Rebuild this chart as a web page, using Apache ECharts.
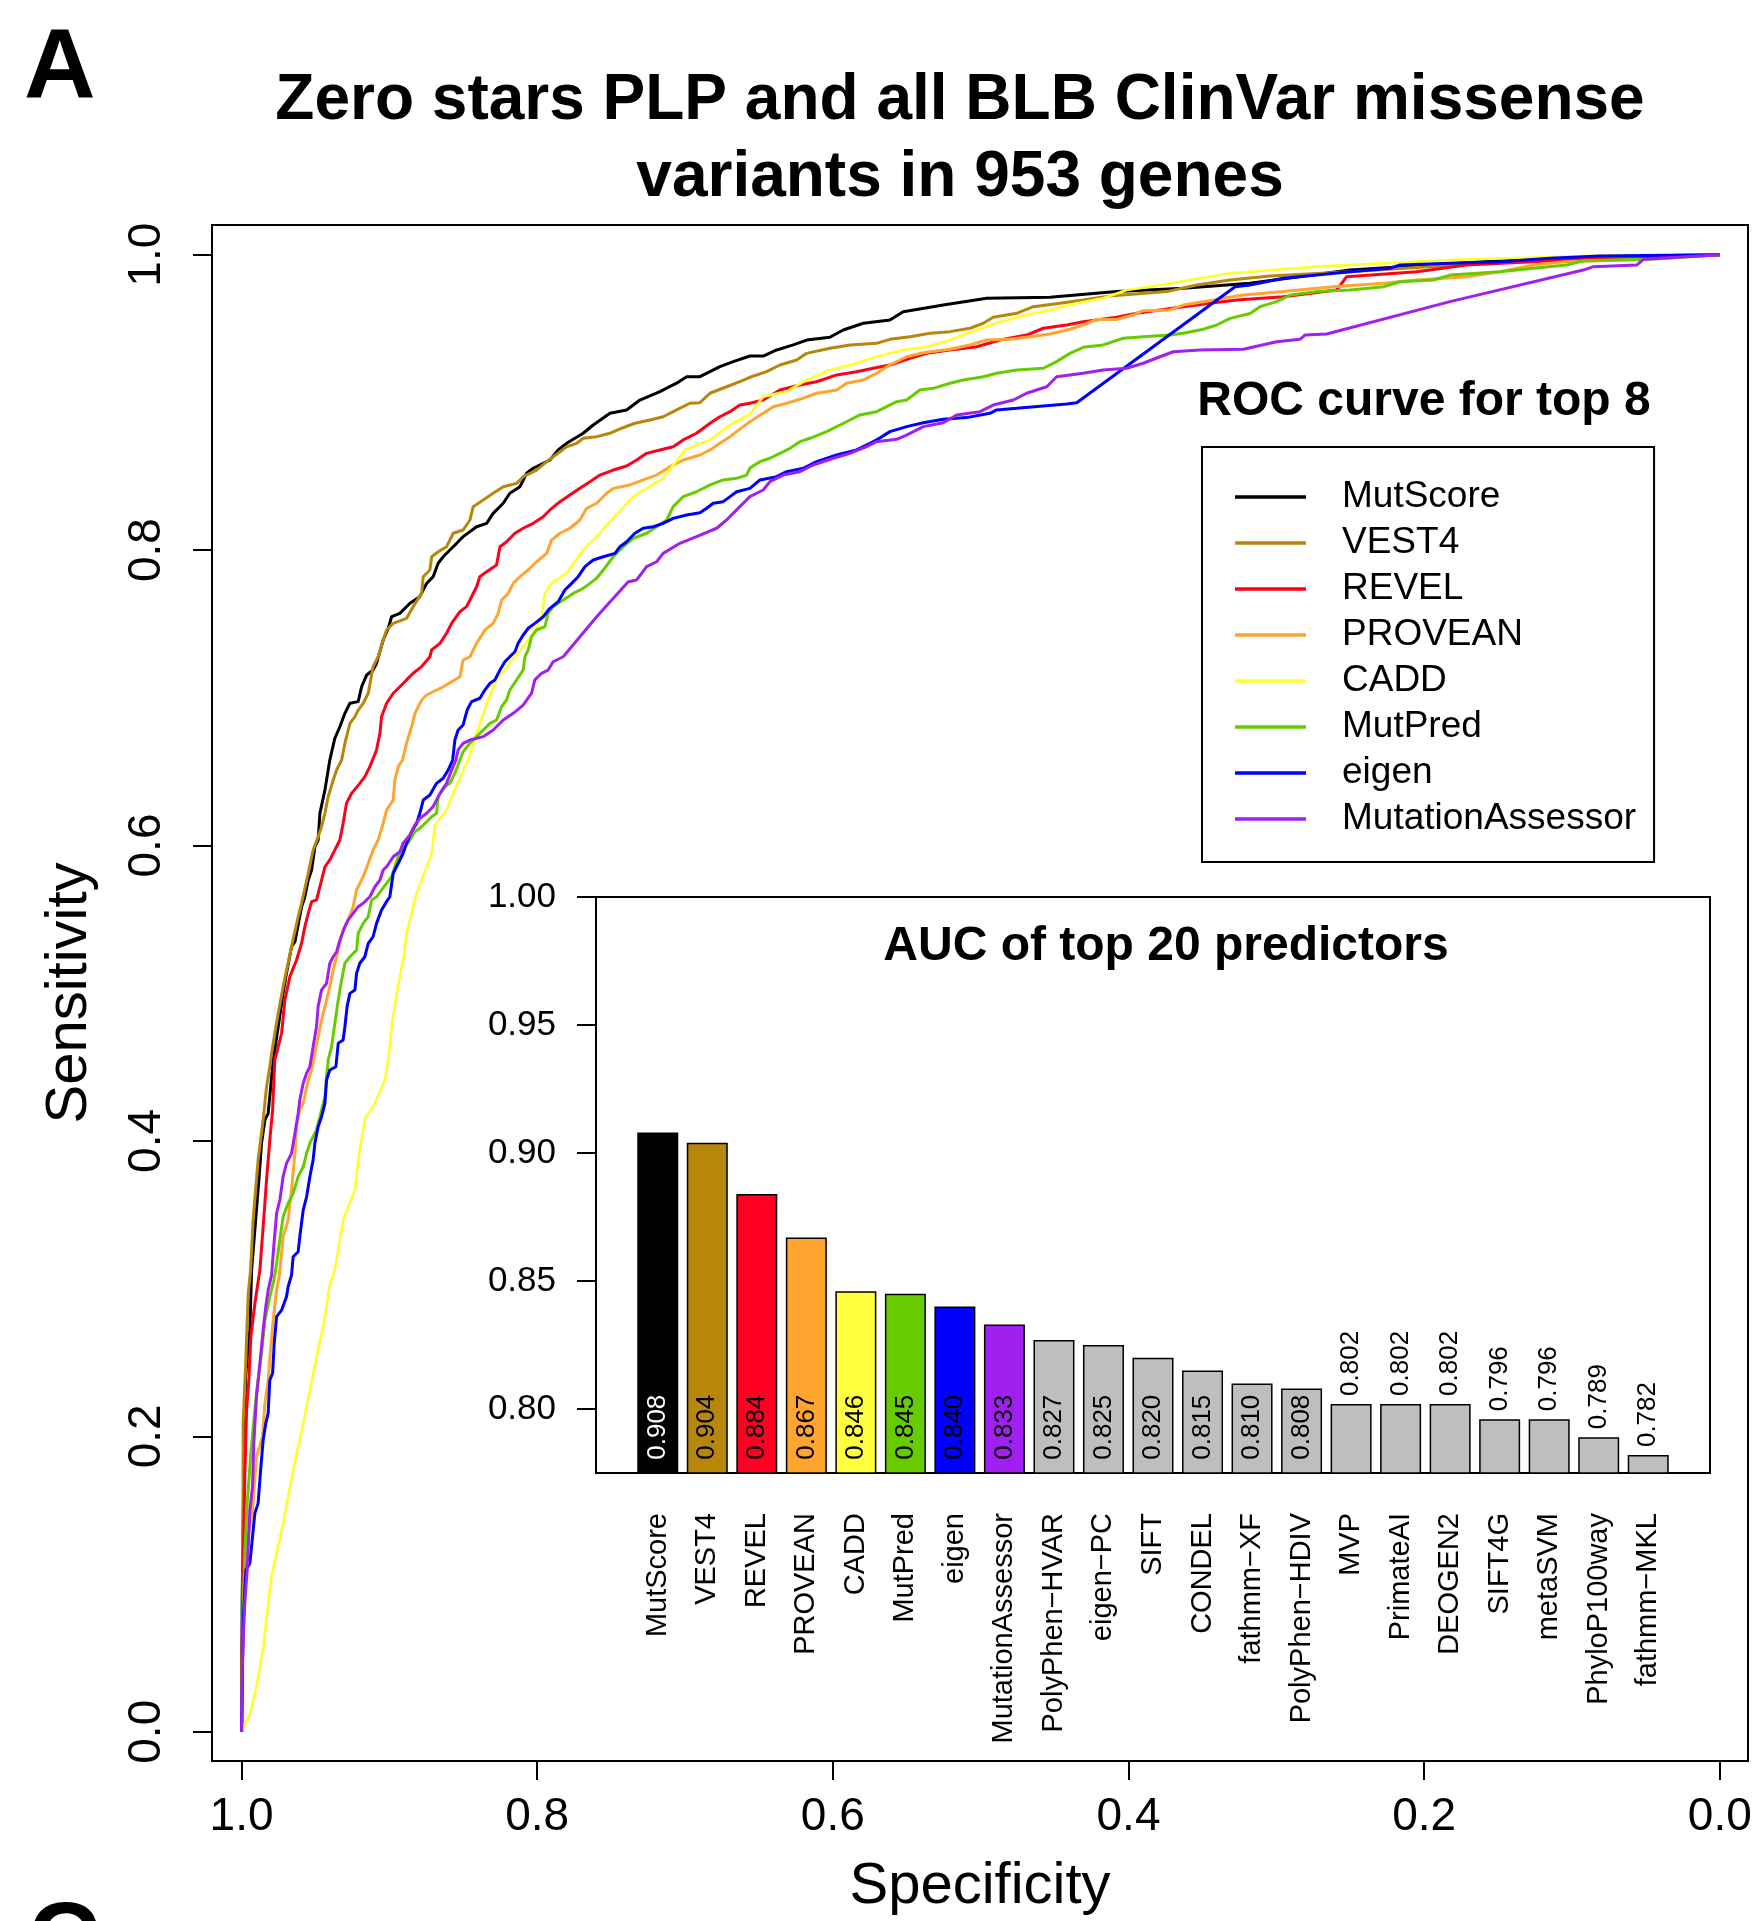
<!DOCTYPE html>
<html><head><meta charset="utf-8">
<script src="https://cdn.jsdelivr.net/npm/echarts@6/dist/echarts.min.js"></script>
<style>html,body{margin:0;padding:0;background:#fff}#c{width:1761px;height:1921px}</style>
</head><body><div id="c"></div>
<script>
const FONT = '"Liberation Sans", Arial, Helvetica, sans-serif';

const curveNames = ['MutScore','VEST4','REVEL','PROVEAN','CADD','MutPred','eigen','MutationAssessor'];
const curveColors = ['#000000','#B8860B','#FF0018','#FFA52F','#FFFF2A','#66CC00','#0000FF','#A020F0'];

// ROC points: [specificity, sensitivity]
const rocMutScore = [[1,0],[0.9996,0.0892],[0.9984,0.1772],[0.9973,0.2404],[0.9944,0.2720],[0.9932,0.3126],[0.9881,0.3758],[0.9865,0.3984],[0.9842,0.4142],[0.9820,0.4187],[0.9786,0.4548],[0.9752,0.4773],[0.9719,0.4999],[0.9696,0.5135],[0.9662,0.5315],[0.9639,0.5349],[0.9594,0.5586],[0.9572,0.5653],[0.9549,0.5766],[0.9526,0.5834],[0.9504,0.5992],[0.9482,0.6037],[0.9470,0.6218],[0.9436,0.6376],[0.9414,0.6511],[0.9403,0.6579],[0.9369,0.6726],[0.9335,0.6804],[0.9301,0.6895],[0.9267,0.6963],[0.9211,0.6974],[0.9188,0.7075],[0.9154,0.7154],[0.9110,0.7188],[0.9087,0.7234],[0.9042,0.7391],[0.9008,0.7471],[0.8985,0.7549],[0.8929,0.7572],[0.8861,0.7640],[0.8794,0.7685],[0.8748,0.7775],[0.8704,0.7820],[0.8670,0.7911],[0.8636,0.7955],[0.8591,0.8001],[0.8545,0.8046],[0.8501,0.8091],[0.8410,0.8158],[0.8342,0.8181],[0.8298,0.8249],[0.8230,0.8317],[0.8185,0.8385],[0.8117,0.8429],[0.8072,0.8520],[0.8027,0.8554],[0.7959,0.8588],[0.7914,0.8610],[0.7858,0.8678],[0.7801,0.8723],[0.7689,0.8791],[0.7621,0.8847],[0.7508,0.8926],[0.7395,0.8949],[0.7305,0.9016],[0.7170,0.9073],[0.7057,0.9130],[0.6989,0.9174],[0.6899,0.9174],[0.6764,0.9242],[0.6674,0.9276],[0.6561,0.9314],[0.6471,0.9314],[0.6380,0.9355],[0.6268,0.9389],[0.6177,0.9422],[0.6020,0.9441],[0.5930,0.9490],[0.5794,0.9536],[0.5614,0.9558],[0.5524,0.9614],[0.5253,0.9659],[0.4959,0.9705],[0.4531,0.9712],[0.4080,0.9750],[0.3629,0.9773],[0.3178,0.9807],[0.2501,0.9896],[0.1599,0.9953],[0.0923,0.9986],[0,1]];

const rocVEST4 = [[1,0],[0.9993,0.0643],[0.9989,0.2088],[0.9973,0.2471],[0.9955,0.2968],[0.9939,0.3126],[0.9922,0.3464],[0.9888,0.3871],[0.9854,0.4142],[0.9831,0.4367],[0.9809,0.4502],[0.9797,0.4593],[0.9775,0.4729],[0.9752,0.4864],[0.9719,0.5044],[0.9662,0.5315],[0.9617,0.5518],[0.9594,0.5609],[0.9549,0.5812],[0.9516,0.5970],[0.9482,0.6060],[0.9459,0.6127],[0.9436,0.6218],[0.9414,0.6330],[0.9380,0.6444],[0.9357,0.6511],[0.9323,0.6579],[0.9301,0.6692],[0.9267,0.6827],[0.9233,0.6872],[0.9211,0.6917],[0.9177,0.6963],[0.9143,0.7031],[0.9110,0.7211],[0.9076,0.7278],[0.9042,0.7391],[0.9019,0.7459],[0.8974,0.7504],[0.8884,0.7538],[0.8839,0.7617],[0.8782,0.7707],[0.8771,0.7820],[0.8726,0.7865],[0.8714,0.7955],[0.8670,0.7989],[0.8613,0.8023],[0.8568,0.8114],[0.8501,0.8136],[0.8455,0.8204],[0.8433,0.8294],[0.8365,0.8339],[0.8298,0.8385],[0.8230,0.8429],[0.8139,0.8452],[0.8095,0.8497],[0.8004,0.8542],[0.7936,0.8599],[0.7846,0.8666],[0.7801,0.8700],[0.7733,0.8723],[0.7689,0.8757],[0.7598,0.8768],[0.7508,0.8791],[0.7429,0.8825],[0.7339,0.8859],[0.7237,0.8881],[0.7148,0.8903],[0.7080,0.8937],[0.6967,0.8994],[0.6899,0.8998],[0.6831,0.9062],[0.6719,0.9106],[0.6629,0.9140],[0.6561,0.9170],[0.6448,0.9208],[0.6358,0.9253],[0.6245,0.9287],[0.6177,0.9332],[0.6020,0.9366],[0.5884,0.9389],[0.5704,0.9400],[0.5614,0.9427],[0.5478,0.9445],[0.5343,0.9468],[0.5208,0.9479],[0.5072,0.9502],[0.4982,0.9536],[0.4915,0.9576],[0.4756,0.9603],[0.4644,0.9648],[0.4463,0.9671],[0.4306,0.9693],[0.4125,0.9720],[0.3742,0.9750],[0.3539,0.9795],[0.3313,0.9829],[0.3043,0.9856],[0.2501,0.9885],[0.1599,0.9942],[0.0923,0.9976],[0,1]];

const rocREVEL = [[1,0],[0.9993,0.0869],[0.9978,0.1726],[0.9966,0.2178],[0.9951,0.2381],[0.9937,0.2674],[0.9910,0.2900],[0.9876,0.3126],[0.9854,0.3419],[0.9831,0.3735],[0.9809,0.4006],[0.9790,0.4209],[0.9775,0.4548],[0.9752,0.4638],[0.9729,0.4729],[0.9707,0.4954],[0.9673,0.5112],[0.9628,0.5225],[0.9594,0.5338],[0.9572,0.5450],[0.9549,0.5541],[0.9526,0.5620],[0.9493,0.5631],[0.9470,0.5721],[0.9436,0.5856],[0.9403,0.5902],[0.9369,0.5970],[0.9335,0.6037],[0.9313,0.6150],[0.9290,0.6286],[0.9256,0.6353],[0.9200,0.6421],[0.9166,0.6466],[0.9132,0.6534],[0.9087,0.6647],[0.9064,0.6760],[0.9053,0.6872],[0.9019,0.6963],[0.8974,0.7031],[0.8929,0.7075],[0.8884,0.7121],[0.8839,0.7166],[0.8782,0.7211],[0.8726,0.7278],[0.8714,0.7324],[0.8658,0.7369],[0.8613,0.7437],[0.8579,0.7504],[0.8523,0.7583],[0.8478,0.7617],[0.8455,0.7662],[0.8410,0.7752],[0.8388,0.7820],[0.8342,0.7854],[0.8275,0.7899],[0.8252,0.8023],[0.8207,0.8057],[0.8151,0.8114],[0.8095,0.8148],[0.8027,0.8181],[0.7959,0.8226],[0.7914,0.8272],[0.7846,0.8328],[0.7779,0.8373],[0.7711,0.8418],[0.7643,0.8463],[0.7576,0.8508],[0.7486,0.8542],[0.7395,0.8569],[0.7327,0.8610],[0.7260,0.8655],[0.7170,0.8678],[0.7080,0.8700],[0.7012,0.8746],[0.6922,0.8791],[0.6831,0.8859],[0.6764,0.8903],[0.6696,0.8937],[0.6629,0.8982],[0.6561,0.8994],[0.6471,0.9016],[0.6358,0.9084],[0.6223,0.9118],[0.6110,0.9140],[0.5974,0.9186],[0.5839,0.9208],[0.5727,0.9231],[0.5614,0.9253],[0.5478,0.9299],[0.5365,0.9332],[0.5208,0.9355],[0.5027,0.9377],[0.4869,0.9422],[0.4689,0.9456],[0.4576,0.9502],[0.4418,0.9524],[0.4306,0.9546],[0.4080,0.9576],[0.3945,0.9603],[0.3787,0.9626],[0.3629,0.9648],[0.3449,0.9671],[0.3268,0.9693],[0.2953,0.9716],[0.2591,0.9761],[0.2524,0.9851],[0.2050,0.9885],[0.1712,0.9930],[0.0923,0.9969],[0.0472,0.9976],[0,1]];

const rocPROVEAN = [[1,0],[0.9984,0.0982],[0.9955,0.1320],[0.9926,0.1501],[0.9899,0.1862],[0.9858,0.1997],[0.9842,0.2223],[0.9820,0.2381],[0.9804,0.2584],[0.9786,0.2787],[0.9763,0.2991],[0.9744,0.3092],[0.9719,0.3351],[0.9685,0.3464],[0.9662,0.3668],[0.9639,0.3916],[0.9628,0.4096],[0.9606,0.4209],[0.9583,0.4255],[0.9549,0.4412],[0.9526,0.4480],[0.9504,0.4593],[0.9482,0.4706],[0.9459,0.4819],[0.9436,0.4909],[0.9403,0.5044],[0.9380,0.5157],[0.9357,0.5247],[0.9335,0.5338],[0.9313,0.5428],[0.9279,0.5496],[0.9245,0.5586],[0.9222,0.5699],[0.9177,0.5789],[0.9143,0.5880],[0.9110,0.5970],[0.9076,0.6037],[0.9042,0.6150],[0.9019,0.6240],[0.8974,0.6308],[0.8963,0.6444],[0.8940,0.6534],[0.8911,0.6579],[0.8884,0.6692],[0.8850,0.6804],[0.8827,0.6895],[0.8782,0.6985],[0.8748,0.7019],[0.8636,0.7075],[0.8523,0.7143],[0.8501,0.7256],[0.8455,0.7278],[0.8410,0.7369],[0.8354,0.7459],[0.8298,0.7504],[0.8264,0.7572],[0.8241,0.7662],[0.8196,0.7707],[0.8162,0.7775],[0.8117,0.7820],[0.8061,0.7865],[0.8004,0.7921],[0.7936,0.7978],[0.7903,0.8068],[0.7846,0.8114],[0.7779,0.8148],[0.7711,0.8204],[0.7666,0.8283],[0.7598,0.8317],[0.7530,0.8385],[0.7486,0.8418],[0.7373,0.8441],[0.7283,0.8475],[0.7192,0.8508],[0.7102,0.8565],[0.7012,0.8610],[0.6899,0.8644],[0.6831,0.8678],[0.6764,0.8723],[0.6696,0.8768],[0.6606,0.8836],[0.6561,0.8869],[0.6471,0.8926],[0.6403,0.8971],[0.6313,0.8994],[0.6223,0.9021],[0.6110,0.9062],[0.5974,0.9084],[0.5907,0.9130],[0.5794,0.9152],[0.5704,0.9197],[0.5614,0.9253],[0.5501,0.9309],[0.5388,0.9336],[0.5208,0.9360],[0.5072,0.9389],[0.4959,0.9422],[0.4802,0.9427],[0.4662,0.9445],[0.4531,0.9463],[0.4396,0.9495],[0.4306,0.9524],[0.4215,0.9562],[0.4080,0.9562],[0.3968,0.9592],[0.3900,0.9621],[0.3719,0.9626],[0.3629,0.9659],[0.3494,0.9682],[0.3359,0.9705],[0.3223,0.9727],[0.2953,0.9750],[0.2614,0.9783],[0.2276,0.9806],[0.2050,0.9829],[0.1712,0.9851],[0.1486,0.9885],[0.1261,0.9930],[0.1035,0.9953],[0.0472,0.9969],[0,1]];

const rocCADD = [[1,0],[0.9939,0.0135],[0.9899,0.0305],[0.9854,0.0565],[0.9797,0.1061],[0.9719,0.1411],[0.9651,0.1772],[0.9583,0.2088],[0.9516,0.2427],[0.9482,0.2584],[0.9436,0.2810],[0.9403,0.3036],[0.9376,0.3092],[0.9313,0.3464],[0.9233,0.3668],[0.9211,0.3871],[0.9166,0.4153],[0.9110,0.4232],[0.9030,0.4412],[0.9008,0.4548],[0.8985,0.4773],[0.8951,0.4999],[0.8907,0.5225],[0.8884,0.5406],[0.8816,0.5676],[0.8714,0.5947],[0.8692,0.6139],[0.8613,0.6240],[0.8501,0.6511],[0.8467,0.6579],[0.8410,0.6760],[0.8332,0.6985],[0.8275,0.7121],[0.8185,0.7234],[0.8095,0.7346],[0.8027,0.7437],[0.7970,0.7549],[0.7948,0.7707],[0.7903,0.7775],[0.7801,0.7843],[0.7689,0.8001],[0.7576,0.8114],[0.7497,0.8204],[0.7350,0.8362],[0.7148,0.8486],[0.7001,0.8678],[0.6831,0.8746],[0.6696,0.8847],[0.6561,0.8921],[0.6471,0.9039],[0.6313,0.9073],[0.6177,0.9152],[0.6020,0.9219],[0.5884,0.9253],[0.5704,0.9309],[0.5524,0.9355],[0.5365,0.9377],[0.5208,0.9422],[0.5027,0.9490],[0.4869,0.9546],[0.4689,0.9592],[0.4531,0.9626],[0.4350,0.9671],[0.4171,0.9705],[0.4012,0.9761],[0.3855,0.9783],[0.3516,0.9840],[0.3313,0.9874],[0.2727,0.9919],[0.1825,0.9964],[0.0697,0.9998],[0,1]];

const rocMutPred = [[1,0],[0.9993,0.0643],[0.9978,0.1208],[0.9962,0.1546],[0.9939,0.1862],[0.9917,0.2110],[0.9894,0.2336],[0.9865,0.2562],[0.9842,0.2787],[0.9809,0.2945],[0.9781,0.3058],[0.9763,0.3171],[0.9741,0.3329],[0.9719,0.3487],[0.9685,0.3578],[0.9651,0.3645],[0.9617,0.3758],[0.9583,0.3825],[0.9560,0.3916],[0.9538,0.3984],[0.9493,0.4074],[0.9470,0.4164],[0.9436,0.4299],[0.9425,0.4435],[0.9414,0.4548],[0.9391,0.4638],[0.9369,0.4796],[0.9346,0.4954],[0.9323,0.5089],[0.9301,0.5203],[0.9267,0.5247],[0.9222,0.5292],[0.9211,0.5406],[0.9177,0.5473],[0.9143,0.5518],[0.9120,0.5631],[0.9087,0.5653],[0.9053,0.5699],[0.9019,0.5744],[0.8985,0.5789],[0.8963,0.5856],[0.8940,0.5924],[0.8907,0.5970],[0.8861,0.6037],[0.8827,0.6093],[0.8782,0.6127],[0.8714,0.6195],[0.8681,0.6218],[0.8670,0.6330],[0.8624,0.6398],[0.8591,0.6421],[0.8557,0.6489],[0.8523,0.6579],[0.8501,0.6635],[0.8455,0.6692],[0.8410,0.6737],[0.8365,0.6782],[0.8320,0.6827],[0.8275,0.6850],[0.8241,0.6940],[0.8207,0.6985],[0.8185,0.7053],[0.8139,0.7121],[0.8095,0.7188],[0.8083,0.7278],[0.8061,0.7324],[0.8038,0.7414],[0.8004,0.7459],[0.7948,0.7481],[0.7926,0.7572],[0.7892,0.7617],[0.7824,0.7662],[0.7756,0.7707],[0.7689,0.7741],[0.7643,0.7775],[0.7598,0.7809],[0.7553,0.7865],[0.7486,0.7955],[0.7418,0.8023],[0.7350,0.8080],[0.7260,0.8114],[0.7192,0.8158],[0.7124,0.8204],[0.7080,0.8294],[0.7012,0.8362],[0.6922,0.8395],[0.6831,0.8441],[0.6742,0.8475],[0.6651,0.8486],[0.6583,0.8508],[0.6561,0.8556],[0.6493,0.8599],[0.6426,0.8622],[0.6358,0.8655],[0.6290,0.8689],[0.6223,0.8734],[0.6155,0.8757],[0.6042,0.8802],[0.5907,0.8869],[0.5817,0.8915],[0.5704,0.8937],[0.5568,0.9005],[0.5501,0.9016],[0.5411,0.9084],[0.5321,0.9095],[0.5208,0.9130],[0.5118,0.9152],[0.4982,0.9174],[0.4892,0.9197],[0.4756,0.9219],[0.4576,0.9231],[0.4486,0.9276],[0.4396,0.9332],[0.4306,0.9373],[0.4171,0.9389],[0.4035,0.9434],[0.3900,0.9445],[0.3719,0.9456],[0.3629,0.9468],[0.3494,0.9495],[0.3403,0.9524],[0.3313,0.9569],[0.3178,0.9602],[0.3110,0.9648],[0.2997,0.9682],[0.2906,0.9727],[0.2727,0.9750],[0.2501,0.9761],[0.2276,0.9783],[0.2163,0.9817],[0.1938,0.9829],[0.1825,0.9862],[0.1486,0.9885],[0.1261,0.9908],[0.1035,0.9930],[0.0923,0.9959],[0.0472,0.9969],[0,1]];

const rocEigen = [[1,0],[0.9989,0.0734],[0.9971,0.1095],[0.9944,0.1140],[0.9926,0.1320],[0.9910,0.1479],[0.9888,0.1546],[0.9871,0.1772],[0.9854,0.1975],[0.9836,0.2088],[0.9820,0.2156],[0.9809,0.2381],[0.9790,0.2427],[0.9779,0.2630],[0.9763,0.2810],[0.9729,0.2855],[0.9696,0.2945],[0.9685,0.3013],[0.9662,0.3092],[0.9651,0.3216],[0.9617,0.3250],[0.9606,0.3351],[0.9583,0.3532],[0.9560,0.3622],[0.9538,0.3758],[0.9516,0.3871],[0.9504,0.3984],[0.9482,0.4096],[0.9459,0.4164],[0.9436,0.4255],[0.9425,0.4412],[0.9403,0.4480],[0.9362,0.4502],[0.9346,0.4661],[0.9313,0.4683],[0.9301,0.4773],[0.9286,0.4909],[0.9267,0.4999],[0.9233,0.5022],[0.9222,0.5135],[0.9200,0.5203],[0.9166,0.5247],[0.9143,0.5338],[0.9110,0.5383],[0.9087,0.5473],[0.9053,0.5563],[0.9019,0.5620],[0.8997,0.5653],[0.8974,0.5812],[0.8940,0.5880],[0.8907,0.5947],[0.8884,0.6015],[0.8850,0.6093],[0.8816,0.6150],[0.8794,0.6218],[0.8771,0.6308],[0.8726,0.6342],[0.8681,0.6421],[0.8636,0.6455],[0.8602,0.6511],[0.8572,0.6579],[0.8557,0.6714],[0.8535,0.6782],[0.8501,0.6816],[0.8474,0.6917],[0.8444,0.6974],[0.8388,0.6997],[0.8354,0.7053],[0.8320,0.7098],[0.8286,0.7121],[0.8252,0.7188],[0.8219,0.7244],[0.8185,0.7278],[0.8151,0.7312],[0.8129,0.7369],[0.8095,0.7425],[0.8061,0.7471],[0.8016,0.7504],[0.7959,0.7549],[0.7914,0.7606],[0.7858,0.7651],[0.7813,0.7730],[0.7767,0.7775],[0.7723,0.7820],[0.7677,0.7888],[0.7621,0.7933],[0.7553,0.7955],[0.7474,0.7978],[0.7440,0.8023],[0.7395,0.8057],[0.7339,0.8114],[0.7283,0.8148],[0.7215,0.8158],[0.7148,0.8181],[0.7080,0.8215],[0.6989,0.8238],[0.6899,0.8253],[0.6854,0.8283],[0.6809,0.8317],[0.6742,0.8328],[0.6696,0.8362],[0.6651,0.8395],[0.6561,0.8418],[0.6493,0.8475],[0.6380,0.8497],[0.6313,0.8531],[0.6200,0.8554],[0.6110,0.8599],[0.5974,0.8644],[0.5839,0.8678],[0.5749,0.8723],[0.5704,0.8746],[0.5614,0.8802],[0.5501,0.8836],[0.5388,0.8862],[0.5253,0.8886],[0.5095,0.8897],[0.4937,0.8926],[0.4892,0.8949],[0.4756,0.8960],[0.4576,0.8976],[0.4418,0.8989],[0.4350,0.8998],[0.3279,0.9783],[0.3178,0.9795],[0.2953,0.9840],[0.2727,0.9862],[0.2501,0.9885],[0.2231,0.9908],[0.2163,0.9930],[0.1825,0.9942],[0.1486,0.9953],[0.1148,0.9976],[0.0810,0.9991],[0,1]];

const rocMutationAssessor = [[1,0],[0.9993,0.0531],[0.9978,0.0869],[0.9962,0.1095],[0.9944,0.1501],[0.9926,0.1659],[0.9917,0.1953],[0.9899,0.2268],[0.9876,0.2494],[0.9854,0.2720],[0.9836,0.2877],[0.9820,0.2991],[0.9797,0.3092],[0.9786,0.3239],[0.9763,0.3510],[0.9741,0.3600],[0.9719,0.3758],[0.9696,0.3848],[0.9662,0.3916],[0.9639,0.4051],[0.9617,0.4187],[0.9606,0.4277],[0.9583,0.4390],[0.9560,0.4458],[0.9538,0.4502],[0.9516,0.4638],[0.9493,0.4773],[0.9482,0.4909],[0.9459,0.5022],[0.9425,0.5067],[0.9403,0.5203],[0.9380,0.5247],[0.9357,0.5281],[0.9335,0.5360],[0.9301,0.5450],[0.9279,0.5496],[0.9245,0.5541],[0.9211,0.5586],[0.9177,0.5609],[0.9132,0.5653],[0.9098,0.5721],[0.9064,0.5766],[0.9042,0.5834],[0.9019,0.5856],[0.8974,0.5924],[0.8929,0.5958],[0.8907,0.6015],[0.8861,0.6071],[0.8827,0.6139],[0.8794,0.6184],[0.8748,0.6218],[0.8704,0.6263],[0.8658,0.6353],[0.8613,0.6421],[0.8579,0.6511],[0.8550,0.6579],[0.8535,0.6647],[0.8501,0.6692],[0.8455,0.6714],[0.8365,0.6737],[0.8298,0.6782],[0.8230,0.6850],[0.8162,0.6895],[0.8095,0.6951],[0.8038,0.7031],[0.8016,0.7121],[0.7970,0.7166],[0.7926,0.7188],[0.7892,0.7244],[0.7824,0.7278],[0.7598,0.7549],[0.7384,0.7786],[0.7327,0.7798],[0.7260,0.7888],[0.7192,0.7921],[0.7148,0.7978],[0.7035,0.8046],[0.6922,0.8091],[0.6786,0.8148],[0.6719,0.8204],[0.6651,0.8272],[0.6606,0.8317],[0.6561,0.8362],[0.6471,0.8407],[0.6426,0.8463],[0.6336,0.8508],[0.6223,0.8531],[0.6133,0.8576],[0.5997,0.8622],[0.5884,0.8655],[0.5771,0.8700],[0.5704,0.8734],[0.5568,0.8750],[0.5501,0.8779],[0.5388,0.8836],[0.5253,0.8862],[0.5162,0.8915],[0.5005,0.8937],[0.4915,0.8982],[0.4779,0.9016],[0.4689,0.9062],[0.4553,0.9106],[0.4486,0.9174],[0.4306,0.9197],[0.4171,0.9219],[0.4012,0.9231],[0.3900,0.9265],[0.3787,0.9309],[0.3697,0.9343],[0.3516,0.9355],[0.3223,0.9360],[0.3043,0.9400],[0.2997,0.9411],[0.2840,0.9427],[0.2806,0.9456],[0.2659,0.9463],[0.1825,0.9682],[0.0923,0.9896],[0.0855,0.9919],[0.0562,0.9930],[0.0517,0.9969],[0,1]];

const rocData = [rocMutScore, rocVEST4, rocREVEL, rocPROVEAN, rocCADD, rocMutPred, rocEigen, rocMutationAssessor];

const predictorNames = ['MutScore','VEST4','REVEL','PROVEAN','CADD','MutPred','eigen','MutationAssessor','PolyPhen\u2212HVAR','eigen\u2212PC','SIFT','CONDEL','fathmm\u2212XF','PolyPhen\u2212HDIV','MVP','PrimateAI','DEOGEN2','SIFT4G','metaSVM','PhyloP100way','fathmm\u2212MKL'];
const aucValues = [0.908,0.904,0.884,0.867,0.846,0.845,0.840,0.833,0.827,0.825,0.820,0.815,0.810,0.808,0.802,0.802,0.802,0.796,0.796,0.789,0.782];
const barColors = ['#000000','#B8860B','#FF0022','#FFA52F','#FFFF40','#66CC00','#0000FF','#A020F0','#BEBEBE','#BEBEBE','#BEBEBE','#BEBEBE','#BEBEBE','#BEBEBE','#BEBEBE','#BEBEBE','#BEBEBE','#BEBEBE','#BEBEBE','#BEBEBE','#BEBEBE'];

const rocTicks = [0, 0.2, 0.4, 0.6, 0.8, 1.0];
const aucTicks = [0.80, 0.85, 0.90, 0.95, 1.00];

const chart = echarts.init(document.getElementById('c'), null, {renderer: 'canvas'});

const lineSeries = curveNames.map((n, i) => ({
  name: n, type: 'line', xAxisIndex: 0, yAxisIndex: 0,
  data: rocData[i], showSymbol: false, symbol: 'none', smooth: false,
  color: curveColors[i],
  itemStyle: {color: curveColors[i]},
  lineStyle: {color: curveColors[i], width: i === 4 ? 2.6 : 3},
  z: 3
}));

const barData = aucValues.map((v, i) => ({
  value: v,
  itemStyle: {color: barColors[i]},
  label: i < 14
    ? {position: 'insideBottom', distance: 14, color: i === 0 ? '#ffffff' : '#000000'}
    : {position: 'top', distance: 8, color: '#000000'}
}));

const txt = (t, x, y, size, bold, align) => ({
  type: 'text', x: x, y: y, z: 100,
  style: {text: t, font: (bold ? 'bold ' : '') + size + 'px ' + FONT, fill: '#000',
          align: align || 'center', verticalAlign: 'middle',
          textAlign: align || 'center', textVerticalAlign: 'middle'}
});

chart.setOption({
  animation: false,
  backgroundColor: '#ffffff',
  textStyle: {fontFamily: FONT},
  grid: [
    {left: 212, top: 225, width: 1536, height: 1536, show: true, borderColor: '#000', borderWidth: 2, backgroundColor: 'transparent', containLabel: false},
    {left: 596, top: 897, width: 1114, height: 576, show: true, borderColor: '#000', borderWidth: 2, backgroundColor: '#ffffff', containLabel: false, z: 5},
    {left: 633, top: 897, width: 1040, height: 576, show: false, containLabel: false, z: 6}
  ],
  xAxis: [
    {gridIndex: 0, type: 'value', inverse: true, min: -0.0191, max: 1.0200, position: 'bottom',
     axisLine: {show: false, onZero: false}, splitLine: {show: false},
     axisTick: {show: true, customValues: rocTicks, length: 19, lineStyle: {color: '#000', width: 2}},
     axisLabel: {show: true, customValues: rocTicks, formatter: v => v.toFixed(1), fontSize: 46, color: '#000', margin: 33, fontFamily: FONT},
     name: 'Specificity', nameLocation: 'middle', nameGap: 97, nameTextStyle: {fontSize: 58, color: '#000', fontFamily: FONT}},
    {gridIndex: 1, type: 'value', show: false, min: 0, max: 1, axisLine: {onZero: false}},
    {gridIndex: 2, type: 'category', data: predictorNames, position: 'bottom',
     axisLine: {show: false, onZero: false}, axisTick: {show: false}, splitLine: {show: false},
     axisLabel: {show: true, interval: 0, rotate: 90, fontSize: 29, color: '#000', margin: 40, fontFamily: FONT}}
  ],
  yAxis: [
    {gridIndex: 0, type: 'value', min: -0.0198, max: 1.0201, position: 'left',
     axisLine: {show: false, onZero: false}, splitLine: {show: false},
     axisTick: {show: true, customValues: rocTicks, length: 19, lineStyle: {color: '#000', width: 2}},
     axisLabel: {show: true, customValues: rocTicks, formatter: v => v.toFixed(1), rotate: 90, fontSize: 46, color: '#000', margin: 42, fontFamily: FONT},
     name: 'Sensitivity', nameLocation: 'middle', nameGap: 113, nameTextStyle: {fontSize: 58, color: '#000', fontFamily: FONT}},
    {gridIndex: 1, type: 'value', min: 0.775, max: 1.0, position: 'left',
     axisLine: {show: false, onZero: false},
     splitLine: {show: true, lineStyle: {color: '#c4c4c4', width: 2}},
     axisTick: {show: true, customValues: aucTicks, length: 19, lineStyle: {color: '#000', width: 2}},
     axisLabel: {show: true, customValues: aucTicks, formatter: v => v.toFixed(2), fontSize: 35, color: '#000', margin: 40, padding: [6, 0, 0, 0], fontFamily: FONT}},
    {gridIndex: 2, type: 'value', min: 0.775, max: 1.0, show: false, splitLine: {show: false}, axisLine: {onZero: false}}
  ],
  legend: {
    data: curveNames, orient: 'vertical', left: 1202, top: 447,
    padding: [27, 18, 20, 33], itemGap: 0, itemWidth: 71, itemHeight: 3.5,
    icon: 'rect', selectedMode: false,
    borderColor: '#000', borderWidth: 2, backgroundColor: '#ffffff',
    textStyle: {fontSize: 37, color: '#000', lineHeight: 46, padding: [0, 0, 0, 31], fontFamily: FONT},
    z: 20
  },
  series: lineSeries.concat([{
    type: 'bar', name: 'AUC', xAxisIndex: 2, yAxisIndex: 2,
    data: barData, barWidth: 41, z: 7,
    itemStyle: {borderColor: '#000', borderWidth: 1.5},
    label: {show: true, rotate: 90, align: 'left', verticalAlign: 'middle', fontSize: 26, fontFamily: FONT,
            formatter: p => p.value.toFixed(3)}
  }]),
  graphic: [
    txt('A', 24, 70, 99, true, 'left'),
    txt('Zero stars PLP and all BLB ClinVar missense', 960, 101, 64, true),
    txt('variants in 953 genes', 960, 178, 64, true),
    txt('ROC curve for top 8', 1424, 402, 48, true),
    txt('AUC of top 20 predictors', 1166, 947, 48, true),
    txt('C', 28, 1944, 99, true, 'left')
  ]
});
</script></body></html>
